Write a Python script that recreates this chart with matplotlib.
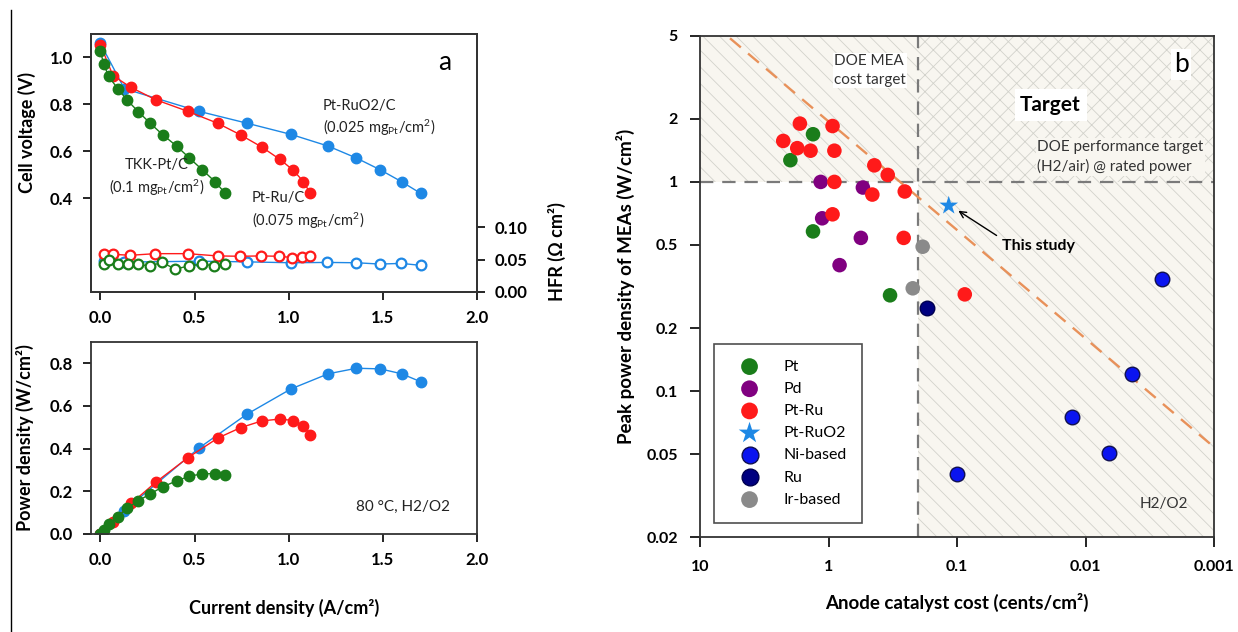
import matplotlib
matplotlib.use('Agg')
import matplotlib.pyplot as plt
from matplotlib.lines import Line2D
from matplotlib.ticker import NullLocator

plt.rcParams['font.family'] = ['Lato', 'DejaVu Sans']
plt.rcParams['mathtext.fontset'] = 'custom'
plt.rcParams['mathtext.rm'] = 'Lato'
plt.rcParams['mathtext.it'] = 'Lato:italic'
plt.rcParams['mathtext.bf'] = 'Lato:bold'
plt.rcParams['hatch.color'] = '#d2d2cb'
plt.rcParams['hatch.linewidth'] = 0.6
plt.rcParams['axes.linewidth'] = 1.3

# ---- panel a: polarization / HFR / power curves ----
# Pt-RuO2/C (blue)
ruo2_i = [0.0, 0.127, 0.525, 0.777, 1.012, 1.21, 1.36, 1.486, 1.60, 1.70]
ruo2_v = [1.06, 0.867, 0.77, 0.72, 0.672, 0.622, 0.571, 0.521, 0.47, 0.421]
ruo2_p = [0.0, 0.11, 0.404, 0.561, 0.68, 0.751, 0.777, 0.774, 0.751, 0.714]
ruo2_hfr_i = [0.018, 0.127, 0.521, 0.777, 1.012, 1.205, 1.36, 1.484, 1.599, 1.70]
ruo2_hfr = [0.047, 0.046, 0.0474, 0.0464, 0.045, 0.0455, 0.045, 0.043, 0.044, 0.041]

# Pt-Ru/C (red)
ptru_i = [0.0, 0.067, 0.163, 0.293, 0.465, 0.624, 0.746, 0.857, 0.954, 1.023, 1.078, 1.113]
ptru_v = [1.054, 0.922, 0.872, 0.820, 0.770, 0.719, 0.669, 0.618, 0.565, 0.520, 0.471, 0.423]
ptru_p = [0.0, 0.058, 0.143, 0.242, 0.358, 0.450, 0.499, 0.530, 0.539, 0.532, 0.508, 0.465]
ptru_hfr_i = [0.018, 0.065, 0.159, 0.292, 0.463, 0.622, 0.742, 0.852, 0.948, 1.019, 1.072, 1.113]
ptru_hfr = [0.058, 0.058, 0.0565, 0.059, 0.059, 0.0555, 0.055, 0.0555, 0.055, 0.053, 0.054, 0.0555]

# TKK-Pt/C (green)
tkk_i = [0.0, 0.018, 0.044, 0.092, 0.141, 0.201, 0.265, 0.330, 0.405, 0.473, 0.541, 0.608, 0.664]
tkk_v = [1.026, 0.971, 0.919, 0.867, 0.819, 0.769, 0.719, 0.671, 0.622, 0.571, 0.521, 0.471, 0.420]
tkk_p = [0.0, 0.019, 0.045, 0.081, 0.120, 0.156, 0.188, 0.221, 0.249, 0.271, 0.282, 0.283, 0.276]
tkk_hfr_i = [0.018, 0.044, 0.092, 0.145, 0.200, 0.261, 0.327, 0.398, 0.472, 0.539, 0.604, 0.662]
tkk_hfr = [0.0424, 0.049, 0.0424, 0.0424, 0.0424, 0.040, 0.0455, 0.0353, 0.0403, 0.043, 0.0403, 0.043]

# ---- panel b: peak power density vs anode catalyst cost ----
pt_cost = [1.32, 1.98, 1.32, 0.332]
pt_ppd = [1.69, 1.27, 0.58, 0.287]
pd_cost = [1.15, 0.54, 1.12, 0.56, 0.82]
pd_ppd = [1.0, 0.94, 0.67, 0.54, 0.40]
ptru_cost = [1.67, 0.93, 2.25, 1.75, 1.38, 0.90, 0.90, 0.44, 0.346, 0.456, 0.255, 0.93, 0.26, 0.087]
ptru_ppd = [1.90, 1.85, 1.57, 1.45, 1.41, 1.41, 1.0, 1.20, 1.08, 0.87, 0.90, 0.70, 0.54, 0.29]
star_cost = [0.116]
star_ppd = [0.77]
ni_cost = [0.00255, 0.00437, 0.0127, 0.00653, 0.0995]
ni_ppd = [0.343, 0.121, 0.0755, 0.0505, 0.0403]
ru_cost = [0.172]
ru_ppd = [0.25]
ir_cost = [0.185, 0.221]
ir_ppd = [0.49, 0.31]

cost_target = 0.2
power_target = 1.0
trend_cost = [5.84, 0.001]
trend_ppd = [4.86, 0.054]

c_green = '#1a7d1a'
c_red = '#ff1a1a'
c_blue = '#1e88e5'
c_purple = '#800080'
c_navy = '#000080'
c_ni = '#0a14f0'
c_gray = '#8a8a8a'

fig = plt.figure(figsize=(12.38, 6.32), dpi=100)

# ---------- panel a, top ----------
ax1 = fig.add_axes([91/1238, 1-292/632, 386/1238, 258/632])
for i, v, c in [(ruo2_i, ruo2_v, c_blue), (ptru_i, ptru_v, c_red), (tkk_i, tkk_v, c_green)]:
    ax1.plot(i, v, '-o', color=c, lw=1, ms=7.5, mec=c)
ax1.set_xlim(-0.05, 2.0)
ax1.set_ylim(0, 1.1)
ax1.set_yticks([0.4, 0.6, 0.8, 1.0])
ax1.set_yticklabels(['0.4', '0.6', '0.8', '1.0'])
ax1.set_xticks([0, 0.5, 1.0, 1.5, 2.0])
ax1.set_xticklabels(['0.0', '0.5', '1.0', '1.5', '2.0'])
ax1.set_ylabel('Cell voltage (V)', fontsize=13, fontweight='bold')
ax1.yaxis.set_label_coords(-0.142, 0.62)
ax1.text(0.917, 0.89, 'a', transform=ax1.transAxes, fontsize=19, ha='center', va='center')
ax1.text(1.18, 0.74, 'Pt-RuO2/C\n(0.025 mg$_{\\rm Pt}$/cm$^2$)', fontsize=10.5, ha='left', va='center',
         linespacing=1.35, color='#222222')
ax1.text(0.30, 0.487, 'TKK-Pt/C\n(0.1 mg$_{\\rm Pt}$/cm$^2$)', fontsize=10.5, ha='center', va='center',
         linespacing=1.35, color='#222222')
ax1.text(0.805, 0.345, 'Pt-Ru/C\n(0.075 mg$_{\\rm Pt}$/cm$^2$)', fontsize=10.5, ha='left', va='center',
         linespacing=1.35, color='#222222')

ax1r = ax1.twinx()
for i, h, c in [(ruo2_hfr_i, ruo2_hfr, c_blue), (ptru_hfr_i, ptru_hfr, c_red), (tkk_hfr_i, tkk_hfr, c_green)]:
    ax1r.plot(i, h, '-o', color=c, lw=1, ms=7, mfc='white', mec=c, mew=1.6)
ax1r.set_ylim(0, 0.397)
ax1r.set_yticks([0, 0.05, 0.10])
ax1r.set_yticklabels(['0.00', '0.05', '0.10'])
ax1r.set_ylabel('HFR (Ω cm²)', fontsize=13, fontweight='bold')
ax1r.yaxis.set_label_coords(1.184, 0.157)

# ---------- panel a, bottom ----------
ax2 = fig.add_axes([91/1238, 1-534/632, 386/1238, 192/632])
for i, p, c in [(ruo2_i, ruo2_p, c_blue), (ptru_i, ptru_p, c_red), (tkk_i, tkk_p, c_green)]:
    ax2.plot(i, p, '-o', color=c, lw=1, ms=7.5, mec=c)
ax2.set_xlim(-0.05, 2.0)
ax2.set_ylim(0, 0.9)
ax2.set_yticks([0, 0.2, 0.4, 0.6, 0.8])
ax2.set_yticklabels(['0.0', '0.2', '0.4', '0.6', '0.8'])
ax2.set_xticks([0, 0.5, 1.0, 1.5, 2.0])
ax2.set_xticklabels(['0.0', '0.5', '1.0', '1.5', '2.0'])
ax2.set_ylabel('Power density (W/cm²)', fontsize=13, fontweight='bold')
ax2.yaxis.set_label_coords(-0.148, 0.5)
ax2.set_xlabel('Current density (A/cm²)', fontsize=13, fontweight='bold', labelpad=22)
ax2.text(0.808, 0.14, '80 °C, H2/O2', transform=ax2.transAxes, fontsize=11, ha='center',
         va='center', color='#222222')

for a in [ax1, ax1r, ax2]:
    a.tick_params(direction='out', length=6, width=1.2, labelsize=12, pad=7)
    for lab in a.get_xticklabels() + a.get_yticklabels():
        lab.set_fontweight('bold')
    for s in a.spines.values():
        s.set_color('#333333')

# ---------- panel b ----------
ax3 = fig.add_axes([700/1238, 1-537.3/632, 514/1238, 501.6/632])
ax3.set_xscale('log')
ax3.set_yscale('log')
ax3.set_xlim(10, 0.001)
ax3.set_ylim(0.02, 5)

bg = '#f8f6f0'
ax3.fill_between([10, cost_target], power_target, 5, facecolor=bg, hatch='\\\\', lw=0, zorder=0)
ax3.fill_between([cost_target, 0.001], 0.02, power_target, facecolor=bg, hatch='\\\\', lw=0, zorder=0)
ax3.fill_between([cost_target, 0.001], power_target, 5, facecolor=bg, hatch='xx', lw=0, zorder=0)
ax3.axvline(cost_target, color='#7a7a7a', lw=1.6, ls=(0, (6, 4)), zorder=1)
ax3.axhline(power_target, color='#7a7a7a', lw=1.6, ls=(0, (6, 4)), zorder=1)
ax3.plot(trend_cost, trend_ppd, color='#e8915a', lw=1.7, ls=(0, (6, 4)), zorder=2)

ms = 110
ax3.scatter(pt_cost, pt_ppd, s=ms, c=c_green, edgecolors='none', label='Pt', zorder=3)
ax3.scatter(pd_cost, pd_ppd, s=ms, c=c_purple, edgecolors='none', label='Pd', zorder=3)
ax3.scatter(ptru_cost, ptru_ppd, s=ms, c=c_red, edgecolors='none', label='Pt-Ru', zorder=3)
ax3.scatter(star_cost, star_ppd, s=200, c=c_blue, marker='*', edgecolors='none', label='Pt-RuO2', zorder=3)
ax3.scatter(ni_cost, ni_ppd, s=ms, c=c_ni, edgecolors='#101050', linewidths=1, label='Ni-based', zorder=3)
ax3.scatter(ru_cost, ru_ppd, s=ms, c=c_navy, edgecolors='#000050', linewidths=1, label='Ru', zorder=3)
ax3.scatter(ir_cost, ir_ppd, s=ms, c=c_gray, edgecolors='none', label='Ir-based', zorder=3)

ax3.set_yticks([0.02, 0.05, 0.1, 0.2, 0.5, 1, 2, 5])
ax3.set_yticklabels(['0.02', '0.05', '0.1', '0.2', '0.5', '1', '2', '5'])
ax3.set_xticks([10, 1, 0.1, 0.01, 0.001])
ax3.set_xticklabels(['10', '1', '0.1', '0.01', '0.001'])
ax3.xaxis.set_minor_locator(NullLocator())
ax3.yaxis.set_minor_locator(NullLocator())
ax3.tick_params(direction='out', length=7, width=1.2, labelsize=11.5, pad=9)
for lab in ax3.get_xticklabels() + ax3.get_yticklabels():
    lab.set_fontweight('bold')
for s in ax3.spines.values():
    s.set_color('#333333')
ax3.set_xlabel('Anode catalyst cost (cents/cm²)', fontsize=13.5, fontweight='bold', labelpad=14)
ax3.set_ylabel('Peak power density of MEAs (W/cm²)', fontsize=13.5, fontweight='bold', labelpad=8)

ax3.text(0.906, 3.41, 'DOE MEA\ncost target', fontsize=11, ha='left', va='center', linespacing=1.45,
         color='#333333', bbox=dict(facecolor='white', edgecolor='none', pad=1), zorder=2)
ax3.text(0.0187, 2.33, 'Target', fontsize=15, fontweight='bold', ha='center', va='center',
         bbox=dict(facecolor='white', edgecolor='none', pad=4), zorder=2)
ax3.text(0.0238, 1.315, 'DOE performance target\n(H2/air) @ rated power', fontsize=11, ha='left',
         va='center', linespacing=1.45, color='#333333',
         bbox=dict(facecolor=bg, edgecolor='none', pad=1), zorder=2)
ax3.text(0.936, 0.942, 'b', transform=ax3.transAxes, fontsize=19, ha='center', va='center', zorder=2,
         bbox=dict(facecolor='white', edgecolor='none', pad=2))
ax3.text(0.903, 0.066, 'H2/O2', transform=ax3.transAxes, fontsize=11, ha='center', va='center',
         color='#333333', zorder=2)
ax3.annotate('This study', xy=(0.0977, 0.728), xytext=(0.0449, 0.495), fontsize=11.5,
             fontweight='bold', ha='left', va='center', zorder=4,
             arrowprops=dict(arrowstyle='->', color='black', lw=1, relpos=(0.0, 1.0),
                             shrinkA=2, shrinkB=0))

leg = ax3.legend(loc='lower left', bbox_to_anchor=(0.028, 0.029), fontsize=11.5, frameon=True,
                 fancybox=False, edgecolor='#222222', borderpad=1.0, labelspacing=0.5,
                 handletextpad=0.9, borderaxespad=0, scatterpoints=1, markerscale=1.15,
                 handlelength=2.4)
leg.get_frame().set_linewidth(1.2)
leg.set_zorder(5)
# stretch the frame to the reference box width
leg._legend_box.align = 'left'

fig.add_artist(Line2D([11/1238, 11/1238], [0, 1-10/632], transform=fig.transFigure,
                      color='black', lw=1))

fig.savefig('out.png', dpi=100)
